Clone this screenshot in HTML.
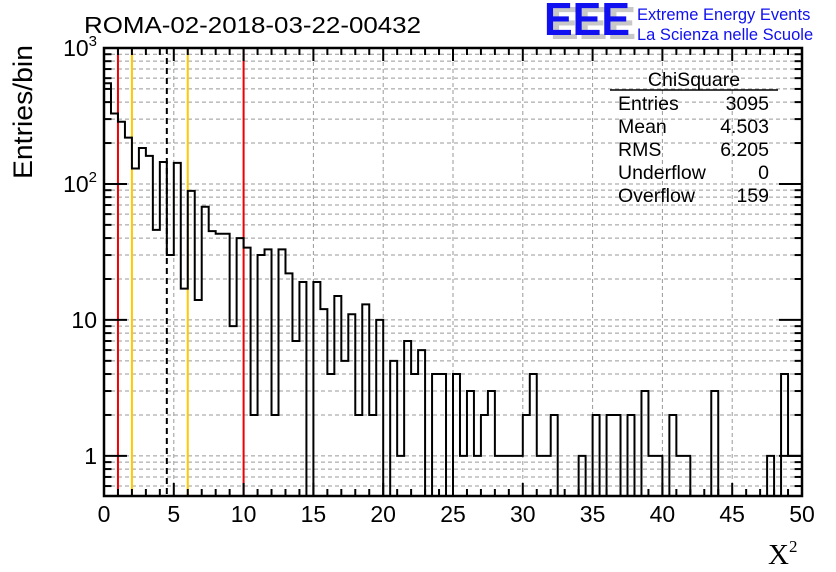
<!DOCTYPE html>
<html><head><meta charset="utf-8"><style>
body{margin:0;background:#fff;}
svg{display:block;font-family:"Liberation Sans",sans-serif;}
</style></head><body>
<svg id="c" width="836" height="572" viewBox="0 0 836 572">
<rect x="0" y="0" width="836" height="572" fill="#fff"/>
<g id="grid"></g>
<g id="vlines"></g>
<path id="hist" fill="none" stroke="#000" stroke-width="2"/>
<g id="axes"></g>
<text x="84" y="33" font-size="23" textLength="337" lengthAdjust="spacingAndGlyphs">ROMA-02-2018-03-22-00432</text>
<g>
<text x="550" y="39" font-size="46" font-weight="bold" fill="#c8c8c8" textLength="86" lengthAdjust="spacingAndGlyphs">EEE</text>
<text x="544" y="35" font-size="46" font-weight="bold" fill="#1010f0" textLength="86" lengthAdjust="spacingAndGlyphs">EEE</text>
<text x="637" y="20" font-size="16.5" fill="#1010f0">Extreme Energy Events</text>
<text x="637" y="40" font-size="16.5" fill="#1010f0">La Scienza nelle Scuole</text>
</g>
<g font-size="19.5">
<text x="694" y="86" text-anchor="middle">ChiSquare</text>
<line x1="610" y1="90" x2="778" y2="90" stroke="#000" stroke-width="1.5"/>
<text x="618" y="110">Entries</text><text x="769" y="110" text-anchor="end">3095</text>
<text x="618" y="133">Mean</text><text x="769" y="133" text-anchor="end">4.503</text>
<text x="618" y="156">RMS</text><text x="769" y="156" text-anchor="end">6.205</text>
<text x="618" y="179">Underflow</text><text x="769" y="179" text-anchor="end">0</text>
<text x="618" y="202">Overflow</text><text x="769" y="202" text-anchor="end">159</text>
</g>
<text transform="translate(32,112) rotate(-90)" text-anchor="middle" font-size="27" textLength="134" lengthAdjust="spacingAndGlyphs">Entries/bin</text>
<text x="768" y="564" font-size="29" font-family="Liberation Serif, serif">X<tspan font-size="17" dy="-12">2</tspan></text>
</svg>
<script>
const counts = [550,330,287,219,130,184,161,46,145,30,143,17,89,14,68,45,43,43,9,40,34,2,30,33,2,33,22,7,19,0,19,12,4,15,5,11,2,13,2,10,0,5,1,7,4,6,0,4,4,0,4,1,3,1,2,3,1,1,1,1,2,4,1,1,2,0,0,0,1,0,2,0,2,2,0,2,0,3,1,1,0,2,1,1,0,0,0,3,0,0,0,0,0,0,0,1,0,4,1,1];
const xTicks = [0,5,10,15,20,25,30,35,40,45,50];
const yDecades = [1,10,100,1000];
const yLabels = ["1","10","10²","10³"];
const refLines = [1,2,4.5,6,10];
const refColors = ["#f00000","#ffc800","#000","#ffc800","#f00000"];
const X0=104,X1=802,Y0=496,Y1=48,XMIN=0,XMAX=50,YMIN=0.507,YMAX=1000;
const NS="http://www.w3.org/2000/svg";
function sx(v){return X0+(v-XMIN)/(XMAX-XMIN)*(X1-X0);}
function sy(v){if(v<=YMIN)return Y0;return Y0-(Math.log10(v)-Math.log10(YMIN))/(Math.log10(YMAX)-Math.log10(YMIN))*(Y0-Y1);}
function mk(parent,tag,attrs){const e=document.createElementNS(NS,tag);for(const k in attrs)e.setAttribute(k,attrs[k]);parent.appendChild(e);return e;}
const grid=document.getElementById('grid'),axes=document.getElementById('axes'),vl=document.getElementById('vlines');
xTicks.forEach(t=>{if(t>XMIN&&t<XMAX){const l=mk(grid,'line',{x1:sx(t),x2:sx(t),y1:Y1,y2:Y0,stroke:'#999','stroke-dasharray':'4,3','stroke-width':1});

}});
for(let d=0.1;d<=1000;d*=10){for(let m=1;m<10;m++){const v=d*m;if(v<YMIN||v>=YMAX)continue;const l=mk(grid,'line',{x1:X0,x2:X1,y1:sy(v),y2:sy(v),stroke:'#999','stroke-dasharray':'4,3','stroke-width':1});

}}
refLines.forEach((r,i)=>{const a={x1:sx(r),x2:sx(r),y1:Y1,y2:Y0,stroke:refColors[i],'stroke-width':2};if(refColors[i]==='#000')a['stroke-dasharray']='6,4';const l=mk(vl,'line',a);

});
const bw=(XMAX-XMIN)/counts.length;let d='M'+sx(0)+' '+Y0;
counts.forEach((c,i)=>{const y=sy(c);d+=' L'+sx(i*bw)+' '+y+' L'+sx((i+1)*bw)+' '+y;});
d+=' L'+sx(XMAX)+' '+Y0;
document.getElementById('hist').setAttribute('d',d);
const fr=mk(axes,'rect',{x:X0,y:Y1,width:X1-X0,height:Y0-Y1,fill:'none',stroke:'#000','stroke-width':2.5});


for(let t=XMIN;t<=XMAX;t++){const major=t%5===0;const L=major?13:7;
mk(axes,'line',{x1:sx(t),x2:sx(t),y1:Y0,y2:Y0-L,stroke:'#000','stroke-width':2});
mk(axes,'line',{x1:sx(t),x2:sx(t),y1:Y1,y2:Y1+L,stroke:'#000','stroke-width':2});}
xTicks.forEach(t=>{const tx=mk(axes,'text',{x:sx(t),y:522,'text-anchor':'middle','font-size':23});tx.textContent=t;

});
for(let d0=0.1;d0<=1000;d0*=10){for(let m=1;m<10;m++){const v=d0*m;if(v<YMIN||v>YMAX*1.0001)continue;const L=m===1?30:15;
mk(axes,'line',{x1:X0,x2:X0+L/2+(m===1?8:0),y1:sy(v),y2:sy(v),stroke:'#000','stroke-width':2});
mk(axes,'line',{x1:X1,x2:X1-L/2-(m===1?8:0),y1:sy(v),y2:sy(v),stroke:'#000','stroke-width':2});}}
yDecades.forEach((v,i)=>{const tx=mk(axes,'text',{x:97,y:sy(v)+8,'text-anchor':'end','font-size':23});
if(i>=2){tx.textContent='10';const ts=mk(tx,'tspan',{'font-size':15,dy:-10});ts.textContent=(i===2?'2':'3');}else tx.textContent=yLabels[i];

});
</script>
</body></html>
